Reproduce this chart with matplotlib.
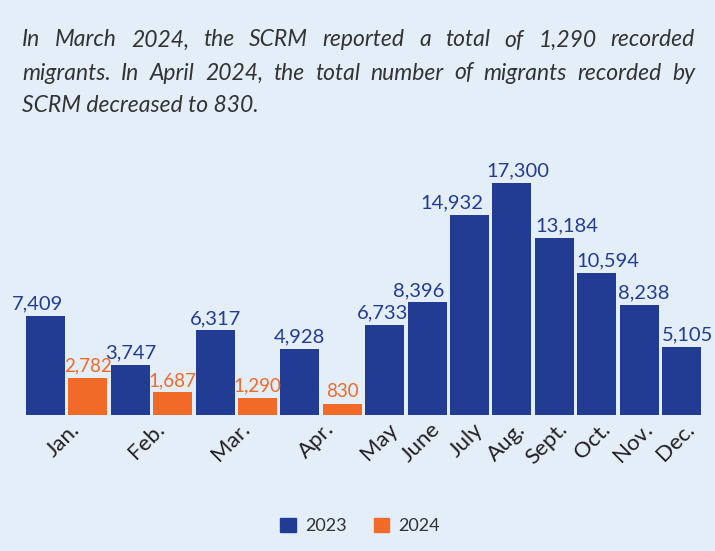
import matplotlib
matplotlib.use("Agg")
import matplotlib.pyplot as plt
import matplotlib.transforms as mtransforms
from matplotlib.patches import Patch

months = ["Jan.", "Feb.", "Mar.", "Apr.", "May", "June", "July", "Aug.", "Sept.", "Oct.", "Nov.", "Dec."]
values_2023 = [7409, 3747, 6317, 4928, 6733, 8396, 14932, 17300, 13184, 10594, 8238, 5105]
values_2024 = [2782, 1687, 1290, 830]
series_names = ["2023", "2024"]
title_lines = [
    "In March 2024, the SCRM reported a total of 1,290 recorded",
    "migrants. In April 2024, the total number of migrants recorded by",
    "SCRM decreased to 830.",
]

# horizontal nudges (pixels) for the 2023 value labels, as in the original layout
label_nudge_px = [-8, 0, 0, 0, -2.5, -8.5, -18, 5.5, 12.5, 11.5, 5, 6]

BLUE = "#233C93"
ORANGE = "#F26A27"
BG = "#E4EEF9"
TEXT = "#231F20"
FONT = ["Lato", "DejaVu Sans"]

plt.rcParams["font.family"] = FONT

W, H = 715, 551
fig = plt.figure(figsize=(W / 100, H / 100), dpi=100)
fig.patch.set_facecolor(BG)

# axes placement (pixels)
left_px, right_px = 24.3, 702.7
base_px, top_px = 415, 147
ax = fig.add_axes([left_px / W, 1 - base_px / H, (right_px - left_px) / W, (base_px - top_px) / H])
ax.set_facecolor(BG)

# slot positions
pos23, pos24, ticks = [], [], []
slot = 0
for i, m in enumerate(months):
    pos23.append(slot)
    if i < len(values_2024):
        pos24.append(slot + 1)
        ticks.append(slot + 0.5)
        slot += 2
    else:
        ticks.append(slot)
        slot += 1

bw = 0.92
ax.bar(pos23, values_2023, width=bw, color=BLUE, label=series_names[0])
ax.bar(pos24, values_2024, width=bw, color=ORANGE, label=series_names[1])

for x, v, dx in zip(pos23, values_2023, label_nudge_px):
    ax.annotate(f"{v:,}", (x, v), xytext=(dx * 0.72, 2.5), textcoords="offset points",
                ha="center", va="bottom", fontsize=14.5, color=BLUE)
for x, v in zip(pos24, values_2024):
    ax.annotate(f"{v:,}", (x, v), xytext=(0, 2.5), textcoords="offset points",
                ha="center", va="bottom", fontsize=13.5, color=ORANGE)

ax.set_xlim(-0.5, slot - 0.5)
ax.set_ylim(0, 20000)
for s in ax.spines.values():
    s.set_visible(False)
ax.set_yticks([])
ax.set_xticks(ticks)
ax.set_xticklabels(months, rotation=45, ha="right", va="top", rotation_mode="anchor",
                   fontsize=16, color=TEXT)
ax.tick_params(axis="x", length=0, pad=3)
offset = mtransforms.ScaledTranslation(3 / 100, 0, fig.dpi_scale_trans)
for lbl in ax.get_xticklabels():
    lbl.set_transform(lbl.get_transform() + offset)

# legend
handles = [Patch(color=BLUE, label=series_names[0]), Patch(color=ORANGE, label=series_names[1])]
fig.legend(handles=handles, loc="center", bbox_to_anchor=(360 / W, 1 - 526 / H), ncol=2,
           frameon=False, fontsize=13, handlelength=0.85, handleheight=0.85,
           handletextpad=0.5, columnspacing=1.5, labelcolor="#333333")

# justified title
renderer = fig.canvas.get_renderer()
x0, x1 = 22, 695
ys = [40, 73, 105]
tkw = dict(fontsize=16.5, style="italic", color="#333333", va="center", ha="left")
for li, (line, yc) in enumerate(zip(title_lines, ys)):
    words = line.split(" ")
    if li == len(title_lines) - 1:
        fig.text(x0 / W, 1 - yc / H, line, **tkw)
        continue
    texts = [fig.text(0, 1 - yc / H, w, **tkw) for w in words]
    widths = [t.get_window_extent(renderer).width for t in texts]
    gap = (x1 - x0 - sum(widths)) / (len(words) - 1)
    xc = x0
    for t, wd in zip(texts, widths):
        t.set_x(xc / W)
        xc += wd + gap

fig.savefig("out.png", dpi=100, facecolor=BG)
